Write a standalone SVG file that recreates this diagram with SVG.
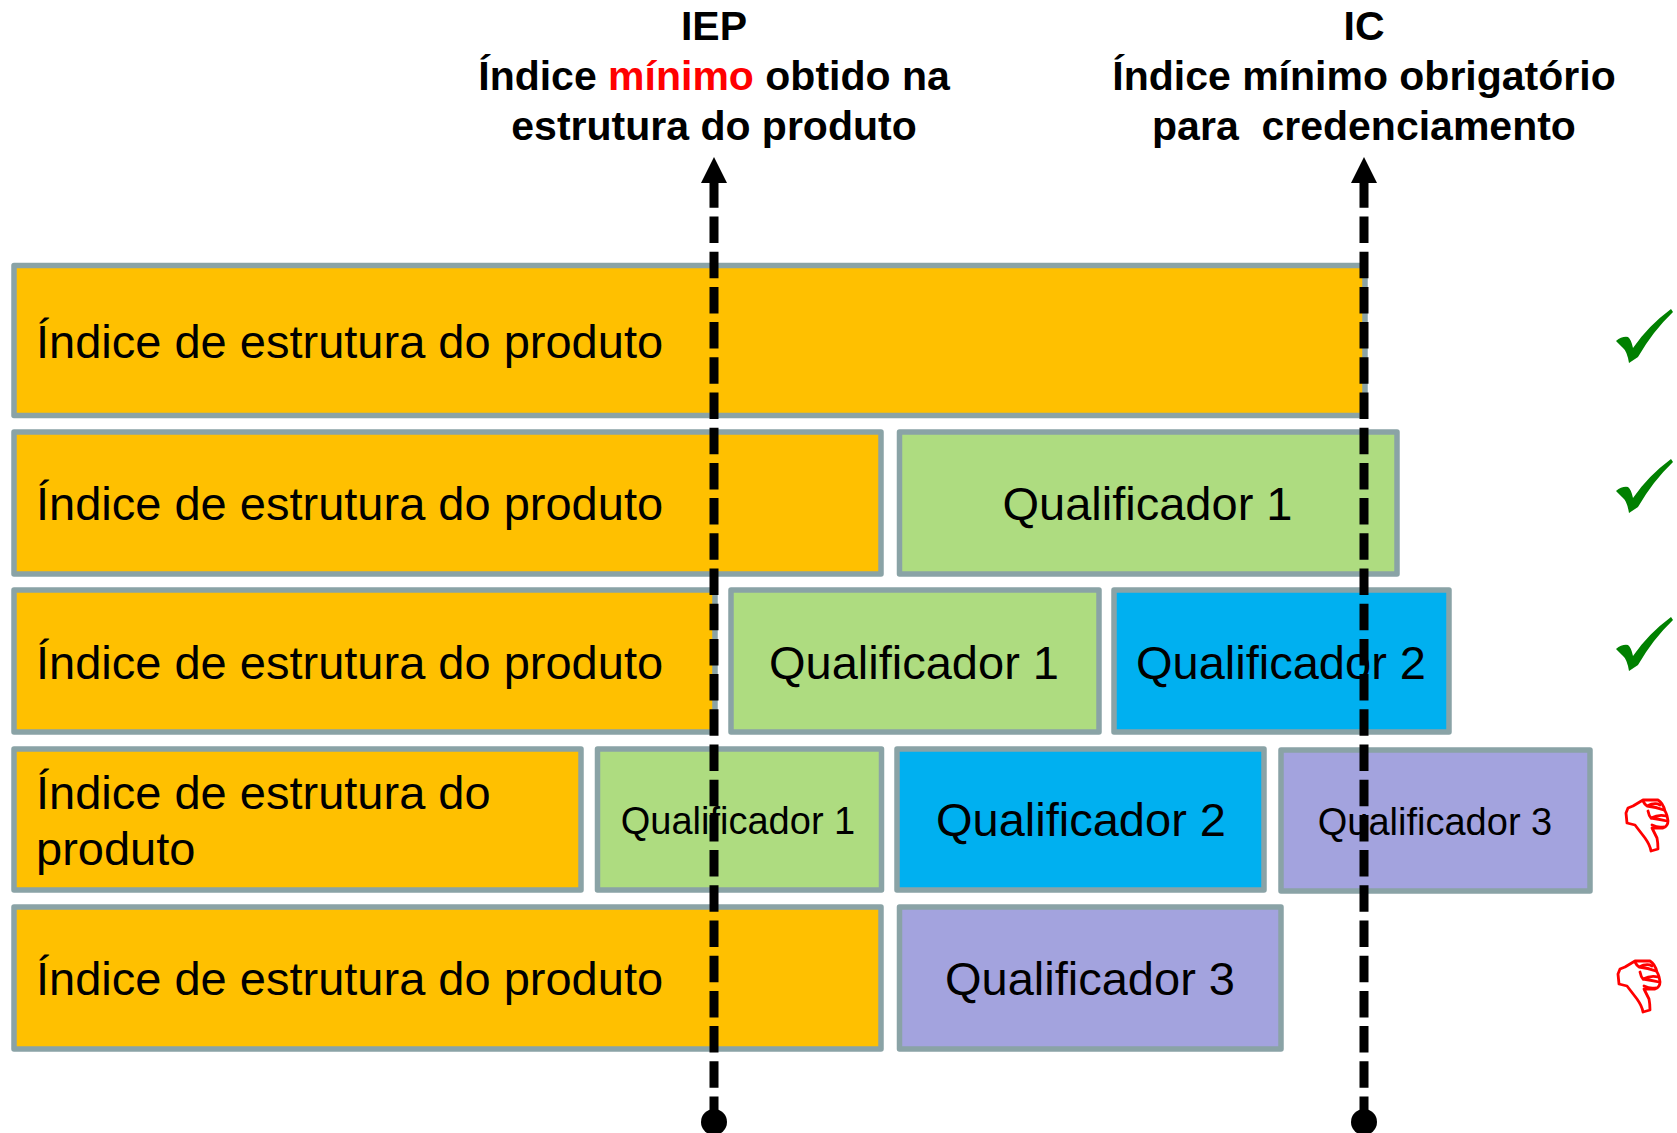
<svg xmlns="http://www.w3.org/2000/svg" width="1677" height="1133" viewBox="0 0 1677 1133">
<style>
text{font-family:"Liberation Sans",Arial,sans-serif;fill:#000}
.t{font-size:47px}
.s{font-size:38px}
.h{font-size:41px;font-weight:bold;text-anchor:middle}
.m{text-anchor:middle}
.b{stroke:#8aa3a6;stroke-width:5.5;stroke-linejoin:round}
.o{fill:#ffc000}.g{fill:#aedc80}.c{fill:#00b0f0}.p{fill:#a3a3de}
.d{fill:none;stroke:#000;stroke-width:9;stroke-dasharray:26.5 8.7}
.ok{fill:#008000}
.no{fill:#fff;stroke:#f00;stroke-width:2.8;stroke-linejoin:round}
.no2{fill:none;stroke:#f00;stroke-width:2.8;stroke-linecap:round}
</style>
<defs>
<path id="check" d="M0 32Q6 27 12 28Q15 30 17 39Q32 17 55 0L57 3Q37 22 22 48L13 54Q11 42 7 39Z"/>
<g id="down">
<path class="no" d="M3 9L1 14L2 24L10 26L20 39Q25 46 26 52L33 50Q33 44 32 39L27 29L38 29Q43 27 43 22Q42 15 40 12Q38 4 33 1L18 1L8 7Z"/>
<path class="no2" d="M18 2Q20 6 22 7Q30 3 35 6M22 7Q31 8 39 11M23 12Q24 17 26 19Q34 15 41 17M26 19Q33 20 42 22M27 26Q33 29 38 28"/>
</g>
</defs>
<g id="header">
<text class="h" x="714" y="40">IEP</text>
<text class="h" x="714" y="90">Índice <tspan fill="#f00">mínimo</tspan> obtido na</text>
<text class="h" x="714" y="140">estrutura do produto</text>
<text class="h" x="1364" y="40">IC</text>
<text class="h" x="1364" y="90">Índice mínimo obrigatório</text>
<text class="h" x="1364" y="140" xml:space="preserve">para  credenciamento</text>
</g>
<g id="row1"><rect class="b o" x="14" y="265.500" width="1351" height="150"/><text class="t" x="36" y="358">Índice de estrutura do produto</text></g>
<g id="row2">
<rect class="b o" x="14" y="432" width="867" height="142"/><text class="t" x="36" y="520">Índice de estrutura do produto</text>
<rect class="b g" x="899.500" y="432" width="497.500" height="142"/><text class="t m" x="1147.500" y="520">Qualificador 1</text></g>
<g id="row3">
<rect class="b o" x="14" y="590" width="701" height="142"/><text class="t" x="36" y="679">Índice de estrutura do produto</text>
<rect class="b g" x="731" y="590" width="368" height="142"/><text class="t m" x="914" y="679">Qualificador 1</text>
<rect class="b c" x="1114" y="590" width="335" height="142"/><text class="t m" x="1281" y="679">Qualificador 2</text></g>
<g id="row4">
<rect class="b o" x="14" y="749" width="567" height="141"/><text class="t" x="36" y="809">Índice de estrutura do</text><text class="t" x="36" y="865">produto</text>
<rect class="b g" x="597.500" y="749" width="284" height="141"/><text class="s m" x="738" y="834">Qualificador 1</text>
<rect class="b c" x="897" y="749" width="367" height="141"/><text class="t m" x="1081" y="836">Qualificador 2</text>
<rect class="b p" x="1281" y="750" width="309" height="141"/><text class="s m" x="1435" y="835">Qualificador 3</text></g>
<g id="row5">
<rect class="b o" x="14" y="907" width="867" height="142"/><text class="t" x="36" y="995">Índice de estrutura do produto</text>
<rect class="b p" x="899.500" y="907" width="381.500" height="142"/><text class="t m" x="1090" y="995">Qualificador 3</text></g>
<g id="connectors">
<path class="d" d="M714 1123V183"/><path d="M714 157L727 183H701Z"/><circle cx="714" cy="1122" r="13"/>
<path class="d" d="M1364 1123V183"/><path d="M1364 157L1377 183H1351Z"/><circle cx="1364" cy="1122" r="13"/>
</g>
<g id="marks">
<use href="#check" class="ok" x="1616" y="309"/>
<use href="#check" class="ok" x="1616" y="459"/>
<use href="#check" class="ok" x="1616" y="617"/>
<use href="#down" x="1625" y="799"/>
<use href="#down" x="1617" y="960"/>
</g>
</svg>
